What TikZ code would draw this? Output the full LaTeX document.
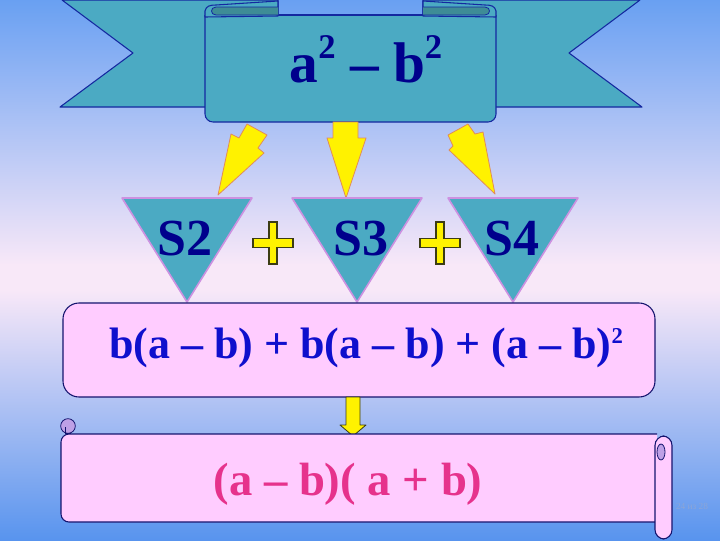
\documentclass[tikz,border=0pt]{standalone}
\usepackage{fontspec}
\setmainfont{Liberation Serif}
\definecolor{bgA}{RGB}{105,160,242}
\definecolor{bgB}{RGB}{248,232,248}
\definecolor{bgC}{RGB}{88,148,238}
\definecolor{ribteal}{RGB}{75,170,195}
\definecolor{folddark}{RGB}{62,140,150}
\definecolor{ribline}{RGB}{20,40,160}
\definecolor{tribord}{RGB}{205,145,225}
\definecolor{arrbord}{RGB}{225,140,90}
\definecolor{plusbord}{RGB}{60,60,20}
\definecolor{boxpink}{RGB}{255,204,255}
\definecolor{boxline}{RGB}{20,20,110}
\definecolor{lavcol}{RGB}{190,160,230}
\definecolor{navytext}{RGB}{0,0,140}
\definecolor{midblue}{RGB}{15,15,205}
\definecolor{scrollpink}{RGB}{230,50,140}
\definecolor{smallgray}{RGB}{140,165,215}
\newcommand\mysup[2]{\raisebox{#1}{\fontsize{#2}{#2}\selectfont 2}}
\begin{document}
\begin{tikzpicture}[x=0.75pt,y=-0.75pt,
  ribbon/.style={fill=ribteal, draw=ribline, line width=0.8pt, line join=round},
  fold/.style={fill=folddark, draw=ribline, line width=0.6pt, line join=round},
  tri/.style={fill=ribteal, draw=tribord, line width=1.2pt, line join=round},
  bigarrow/.style={fill=yellow, draw=arrbord, line width=0.6pt, line join=round},
  smallarrow/.style={fill=yellow, draw=plusbord, line width=0.6pt, line join=round},
  plussign/.style={fill=yellow, draw=plusbord, line width=0.8pt, line join=miter},
  pinkbox/.style={fill=boxpink, draw=boxline, line width=0.8pt},
  lav/.style={fill=lavcol, draw=boxline, line width=0.6pt},
  lbl/.style={inner sep=0pt, anchor=base}]
\useasboundingbox (0,0) rectangle (720,540);
% background
\fill[top color=bgA, bottom color=bgB] (0,0) rectangle (720,265);
\fill[bgB] (0,264) rectangle (720,291);
\fill[top color=bgB, bottom color=bgC] (0,290) rectangle (720,540);

% ribbon tails
\filldraw[ribbon] (62,0) -- (278,0) -- (278,107) -- (60,107) -- (133,53) -- cycle;
\filldraw[ribbon] (640,0) -- (423,0) -- (423,107) -- (642,107) -- (569,53) -- cycle;
% central panel
\filldraw[ribbon, rounded corners=6] (205,15) -- (205,122) -- (496,122) -- (496,15);
\draw[ribline, line width=0.8pt] (278,15) -- (423,15);
% folds
\filldraw[ribbon] (205,17) -- (205,11) .. controls (206,6) and (210,5) .. (216,5) -- (278,1) -- (278,16) -- cycle;
\filldraw[fold] (278,7) -- (216,7) .. controls (210,7) and (210,15) .. (216,15) -- (278,15);
\filldraw[ribbon] (496,17) -- (496,11) .. controls (495,6) and (491,5) .. (485,5) -- (423,1) -- (423,16) -- cycle;
\filldraw[fold] (423,7) -- (485,7) .. controls (491,7) and (491,15) .. (485,15) -- (423,15);
\node[lbl, text=navytext, font=\fontsize{43}{43}\selectfont\bfseries] (title) at (366,82)
  {a\mysup{18pt}{26} – b\mysup{18pt}{26}};

% yellow arrows from the banner
\filldraw[bigarrow] (247,124) -- (267,135) -- (258,148) -- (264,153) -- (218,195) -- (231,134) -- (239,138) -- cycle;
\filldraw[bigarrow] (333,122) -- (358,122) -- (358,138) -- (366,138) -- (346,198) -- (327,138) -- (333,138) -- cycle;
\filldraw[bigarrow] (468,124) -- (475,134) -- (483,132) -- (495,194) -- (449,150) -- (453,146) -- (448,135) -- cycle;

% triangles
\filldraw[tri] (122,198) -- (252,198) -- (187,302) -- cycle;
\filldraw[tri] (292,198) -- (422,198) -- (357,302) -- cycle;
\filldraw[tri] (448,198) -- (578,198) -- (513,302) -- cycle;
\node[lbl, text=navytext, font=\fontsize{39}{39}\selectfont\bfseries] (s2) at (185,255) {S2};
\node[lbl, text=navytext, font=\fontsize{39}{39}\selectfont\bfseries] (s3) at (361,255) {S3};
\node[lbl, text=navytext, font=\fontsize{39}{39}\selectfont\bfseries] (s4) at (512,255) {S4};

% plus signs
\foreach \cx/\cy in {273/243, 440/243}{
  \filldraw[plussign, shift={(\cx,\cy)}] (-20,-4.5) -- (-4,-4.5) -- (-4,-21) -- (4,-21) -- (4,-4.5) -- (20,-4.5)
    -- (20,4.5) -- (4,4.5) -- (4,21) -- (-4,21) -- (-4,4.5) -- (-20,4.5) -- cycle;
}

% pink box
\filldraw[pinkbox, rounded corners=12] (63,303) rectangle (655,397);
\node[lbl, text=midblue, font=\fontsize{33}{33}\selectfont\bfseries] (expr) at (366,358)
  {b(a – b) + b(a – b) + (a – b)\mysup{11pt}{17}};

% small down arrow
\filldraw[smallarrow] (346,397) -- (360,397) -- (360,425) -- (366,425) -- (353,436) -- (340,425) -- (346,425) -- cycle;

% scroll
\filldraw[pinkbox, rounded corners=6] (657,434) -- (61,434) -- (61,522) -- (657,522);
\filldraw[lav] (68,426) circle[radius=5.5pt];
\draw[boxline, line width=0.5pt] (65,427) -- (65,433) -- (71,433);
\filldraw[pinkbox, rounded corners=7] (655,436) rectangle (672,539);
\filldraw[lav] (661,452) ellipse[x radius=3pt, y radius=6pt];
\node[lbl, text=scrollpink, font=\fontsize{35}{35}\selectfont\bfseries] (result) at (348,495) {(a – b)( a + b)};

\node[text=smallgray, inner sep=0pt, font=\fontsize{7}{7}\selectfont] (page) at (692,506) {24 из 28};
\end{tikzpicture}
\end{document}
